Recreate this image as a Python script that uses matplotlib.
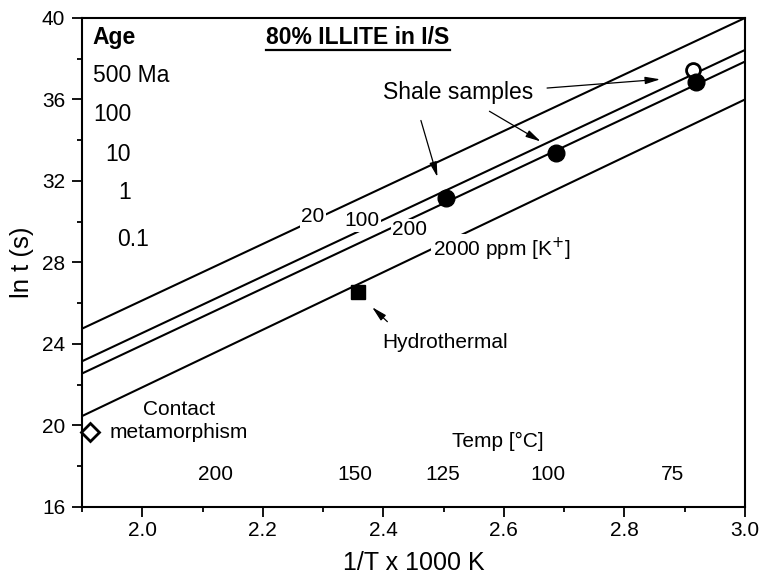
import matplotlib
matplotlib.use("Agg")
import matplotlib.pyplot as plt
from matplotlib.lines import Line2D
import numpy as np

plt.rcParams['font.family'] = ['Liberation Sans', 'DejaVu Sans']

# ---- data ----
line_labels = ['20', '100', '200', '2000 ppm [K$^{+}$]']
line_x = [1.9, 3.0]
line_y_start = [24.75, 23.15, 22.55, 20.46]
line_y_end = [40.0, 38.43, 37.86, 36.0]
label_x = [2.283, 2.365, 2.444, 2.482]
label_y = [30.25, 30.05, 29.6, 28.63]

shale_x = [2.504, 2.686, 2.919]
shale_y = [31.18, 33.38, 36.86]
shale_open_x = [2.914]
shale_open_y = [37.45]
hydro_x = [2.358]
hydro_y = [26.57]
contact_x = [1.913]
contact_y = [19.66]

age_labels = ['500 Ma', '100', '10', '1', '0.1']
age_x = [1.918, 1.918, 1.938, 1.96, 1.958]
age_y = [37.2, 35.25, 33.28, 31.42, 29.12]

temp_labels = ['200', '150', '125', '100', '75']
temp_x = [2.121, 2.353, 2.499, 2.673, 2.879]
temp_y = 17.6

xticks = [2.0, 2.2, 2.4, 2.6, 2.8, 3.0]
yticks = [16, 20, 24, 28, 32, 36, 40]

# ---- figure ----
fig = plt.figure(figsize=(7.62, 5.83), dpi=100)
ax = fig.add_axes([0.1076, 0.1304, 0.8701, 0.8388])
ax.set_xlim(1.9, 3.0)
ax.set_ylim(16, 40)

for ys, ye, lab, lx, ly in zip(line_y_start, line_y_end, line_labels, label_x, label_y):
    ax.plot(line_x, [ys, ye], color='black', lw=1.5, solid_capstyle='butt', zorder=2)
    ha = 'left' if lab.startswith('2000') else 'center'
    ax.text(lx, ly, lab, fontsize=15, ha=ha, va='center', zorder=3,
            bbox=dict(boxstyle='square,pad=0.08', fc='white', ec='none'))

ax.plot(shale_x, shale_y, 'o', color='black', ms=12, zorder=5)
ax.plot(shale_open_x, shale_open_y, 'o', mfc='white', mec='black', mew=2, ms=10, zorder=4)
ax.plot(hydro_x, hydro_y, 's', color='black', ms=10, zorder=5)
ax.plot(contact_x, contact_y, 'D', mfc='white', mec='black', mew=2, ms=9, zorder=5, clip_on=False)

# annotations
ax.text(2.399, 36.32, 'Shale samples', fontsize=16.5, ha='left', va='center')
arrow_kw = dict(arrowstyle='-|>,head_length=0.9,head_width=0.22', color='black', lw=0.9)
ax.annotate('', xy=(2.864, 37.0), xytext=(2.667, 36.55), arrowprops=arrow_kw)
ax.annotate('', xy=(2.491, 32.06), xytext=(2.461, 35.1), arrowprops=arrow_kw)
ax.annotate('', xy=(2.665, 33.87), xytext=(2.572, 35.49), arrowprops=arrow_kw)

ax.text(2.398, 24.07, 'Hydrothermal', fontsize=15, ha='left', va='center')
ax.annotate('', xy=(2.378, 25.9), xytext=(2.41, 25.0), arrowprops=arrow_kw)

ax.text(2.061, 20.22, 'Contact\nmetamorphism', fontsize=15, ha='center', va='center',
        linespacing=1.25)

ax.text(2.59, 19.2, 'Temp [°C]', fontsize=15, ha='center', va='center')
for lab, tx in zip(temp_labels, temp_x):
    ax.text(tx, temp_y, lab, fontsize=15, ha='center', va='center')

ax.text(1.918, 39.02, 'Age', fontsize=16.5, fontweight='bold', ha='left', va='center')
for lab, axx, ayy in zip(age_labels, age_x, age_y):
    ax.text(axx, ayy, lab, fontsize=16.5, ha='left', va='center')

title = ax.text(2.358, 39.02, '80% ILLITE in I/S', fontsize=16.5, fontweight='bold',
                ha='center', va='center')

# axes styling
ax.set_xticks(xticks)
ax.set_xticklabels([f'{v:.1f}' for v in xticks])
ax.set_yticks(yticks)
ax.set_xticks(np.arange(1.9, 3.0, 0.2), minor=True)
ax.set_yticks(np.arange(18, 40, 4), minor=True)
ax.tick_params(axis='both', which='major', direction='out', length=7, width=1.3,
               labelsize=15, top=False, right=False)
ax.tick_params(axis='both', which='minor', direction='out', length=3.5, width=1.3,
               top=False, right=False)
ax.tick_params(axis='x', which='major', pad=3)
ax.tick_params(axis='y', which='major', pad=5)
for s in ax.spines.values():
    s.set_linewidth(1.5)

ax.set_xlabel('1/T x 1000 K', fontsize=18, labelpad=8)
ax.set_ylabel('ln t (s)', fontsize=18.5, labelpad=6)

# underline the title
fig.canvas.draw()
bb = title.get_window_extent()
inv = fig.transFigure.inverted()
(x0, y0), (x1, _) = inv.transform([(bb.x0, bb.y0 - 1), (bb.x1, bb.y0 - 1)])
fig.add_artist(Line2D([x0, x1], [y0, y0], transform=fig.transFigure, color='black', lw=1.6))

fig.savefig('out.png', dpi=100)
